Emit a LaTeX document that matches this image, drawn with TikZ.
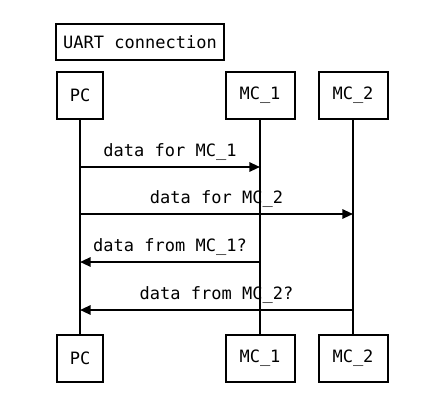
\documentclass[tikz,border=0pt]{standalone}
\usepackage{fontspec}
\setmonofont{DejaVu Sans Mono}
\usetikzlibrary{arrows.meta}

\begin{document}
\begin{tikzpicture}[x=0.75pt, y=-0.75pt,
  box/.style={draw, line width=1.5pt, inner sep=0pt, minimum height=35.25pt,
              font=\ttfamily\fontsize{12.75}{15}\selectfont},
  pcbox/.style={box, minimum width=34.5pt},
  mcbox/.style={box, minimum width=51.75pt},
  life/.style={line width=1.5pt},
  msg/.style={line width=1.5pt, -{Triangle[length=8pt, width=7pt]}},
  lbl/.style={above=1pt, font=\ttfamily\fontsize{12.75}{15}\selectfont},
]
  \useasboundingbox (0,0) rectangle (448,407);

  % Title
  \node[box, minimum width=126pt, minimum height=27pt] (title) at (140,42) {UART connection};

  % Participants
  \node[pcbox] (pcT)  at (80,95)  {PC};
  \node[mcbox] (mc1T) at (260,95) {MC\_1};
  \node[mcbox] (mc2T) at (353,95) {MC\_2};
  \node[pcbox] (pcB)  at (80,358)  {PC};
  \node[mcbox] (mc1B) at (260,358) {MC\_1};
  \node[mcbox] (mc2B) at (353,358) {MC\_2};

  % Lifelines
  \draw[life] (pcT) -- (pcB);
  \draw[life] (mc1T) -- (mc1B);
  \draw[life] (mc2T) -- (mc2B);

  % Message ends
  \coordinate (p1) at (80,167);  \coordinate (a1) at (260,167);
  \coordinate (p2) at (80,214);  \coordinate (b2) at (353,214);
  \coordinate (p3) at (80,262);  \coordinate (a3) at (260,262);
  \coordinate (p4) at (80,310);  \coordinate (b4) at (353,310);

  % Messages
  \draw[msg] (p1) -- node[lbl] {data for MC\_1} (a1);
  \draw[msg] (p2) -- node[lbl] {data for MC\_2} (b2);
  \draw[msg] (a3) -- node[lbl] {data from MC\_1?} (p3);
  \draw[msg] (b4) -- node[lbl] {data from MC\_2?} (p4);
\end{tikzpicture}
\end{document}
